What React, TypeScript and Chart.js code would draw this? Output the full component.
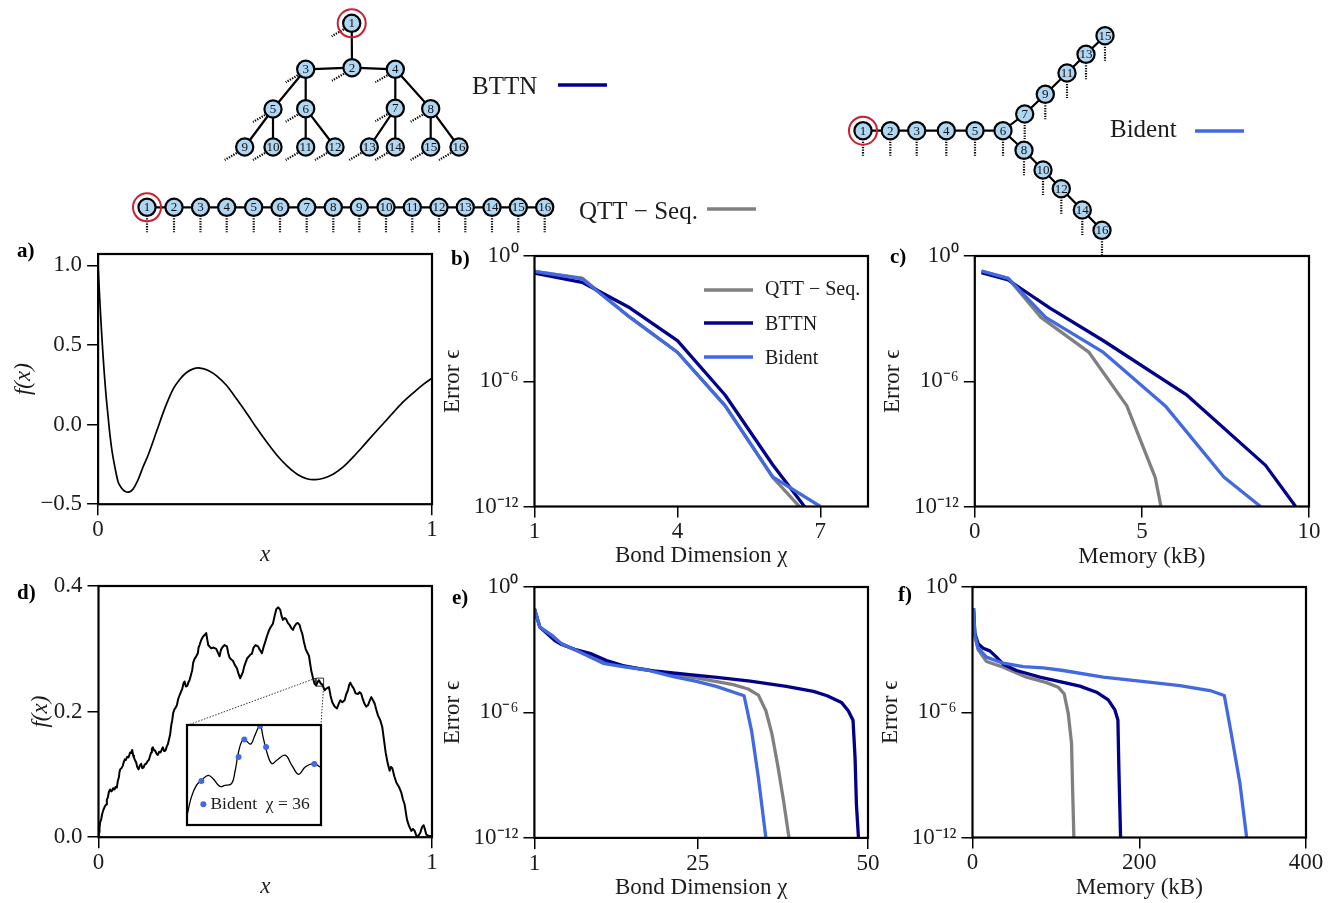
import React, { useEffect, useRef } from "react";
import { Chart, registerables } from "chart.js";

Chart.register(...registerables);

const SERIF = "'Liberation Serif', serif";
const INK = "#1c1c1c";
const NAVY = "#00008B";
const ROYAL = "#4169E1";
const GRAY = "#808080";
const NODE_FILL = "#AFD6F2";
const RING = "#C8202E";

/* ---------- panel a ---------- */
const aX = [0, .005, .01, .015, .02, .025, .03, .035, .042, .05, .06, .07, .08, .092, .105, .12, .135, .15, .175, .2, .225, .245, .265, .285, .305, .33, .355, .385, .415, .445, .475, .505, .535, .565, .595, .625, .65, .675, .705, .735, .765, .795, .825, .855, .885, .915, .945, .975, 1];
const aY = [1.0, .785, .596, .428, .281, .155, .05, -.055, -.17, -.264, -.36, -.398, -.418, -.424, -.404, -.345, -.264, -.191, -.044, .103, .224, .285, .327, .35, .355, .34, .306, .245, .16, .071, -.022, -.11, -.191, -.258, -.31, -.34, -.346, -.337, -.31, -.264, -.201, -.132, -.061, .008, .078, .145, .201, .254, .292];

/* ---------- panel b (log10 of error) ---------- */
const bChi = [1, 2, 3, 4, 5, 6, 7];
const bQtt = [-.74, -1.06, -2.93, -4.61, -7.17, -10.6, -13.1];
const bBttn = [-.82, -1.26, -2.48, -4.05, -6.66, -10.0, -13.0];
const bBident = [-.74, -1.10, -2.93, -4.61, -7.17, -10.58, -12.0];

/* ---------- panel c ---------- */
const cQttX = [.2, 1.0, 1.98, 3.42, 4.55, 5.4, 5.57];
const cQtt = [-.72, -1.07, -2.94, -4.62, -7.18, -10.62, -12.0];
const cBttnX = [.2, 1.0, 2.25, 3.85, 6.35, 8.7, 9.6];
const cBttn = [-.8, -1.15, -2.5, -4.06, -6.67, -10.03, -12.0];
const cBidentX = [.2, 1.0, 2.12, 3.85, 5.7, 7.45, 8.55];
const cBident = [-.72, -1.07, -2.94, -4.62, -7.18, -10.59, -12.0];

/* ---------- panel d ---------- */
const dX = [0, .0015, .003, .005, .008, .011, .015, .019, .023, .025, .028, .031, .035, .038, .041, .044, .048, .051, .055, .058, .061, .063, .065, .069, .073, .076, .079, .082, .086, .09, .095, .098, .101, .104, .106, .11, .113, .116, .12, .124, .128, .131, .135, .139, .143, .147, .151, .155, .158, .16, .163, .167, .17, .174, .178, .182, .186, .19, .193, .197, .201, .205, .208, .212, .215, .218, .221, .224, .228, .231, .235, .239, .243, .247, .251, .255, .258, .262, .266, .27, .273, .277, .281, .284, .288, .293, .298, .3, .303, .308, .313, .318, .323, .326, .329, .334, .338, .345, .353, .358, .363, .367, .371, .378, .385, .389, .393, .398, .403, .409, .415, .42, .425, .429, .433, .437, .441, .446, .451, .456, .46, .463, .465, .471, .478, .484, .49, .495, .5, .505, .511, .517, .523, .528, .533, .539, .545, .549, .553, .558, .563, .568, .573, .578, .583, .588, .593, .598, .603, .607, .611, .616, .621, .626, .631, .635, .638, .643, .648, .653, .657, .661, .666, .671, .675, .678, .684, .691, .696, .701, .708, .715, .72, .725, .731, .738, .743, .748, .752, .755, .76, .765, .771, .778, .783, .788, .793, .798, .803, .808, .813, .818, .823, .828, .833, .838, .845, .851, .856, .861, .867, .873, .877, .881, .887, .893, .901, .908, .913, .918, .922, .925, .931, .938, .943, .948, .952, .955, .96, .965, .97, .975, .979, .983, .99, 1];
const dY = [0, .008, .015, .024, .028, .037, .044, .049, .052, .06, .063, .072, .076, .073, .074, .078, .076, .08, .079, .09, .095, .104, .108, .11, .114, .12, .124, .123, .128, .127, .135, .134, .139, .13, .127, .122, .119, .112, .108, .114, .117, .11, .111, .116, .117, .121, .123, .13, .135, .141, .143, .138, .138, .133, .131, .136, .135, .14, .143, .137, .138, .145, .148, .157, .164, .178, .186, .198, .204, .206, .21, .22, .226, .231, .236, .245, .248, .24, .241, .247, .25, .258, .266, .278, .284, .288, .293, .302, .306, .314, .319, .322, .325, .315, .306, .303, .301, .302, .3, .294, .288, .298, .302, .306, .304, .293, .286, .283, .281, .274, .269, .26, .253, .258, .263, .272, .278, .285, .288, .291, .292, .298, .302, .306, .304, .298, .293, .303, .311, .32, .329, .335, .34, .352, .363, .366, .362, .352, .346, .349, .347, .341, .338, .333, .33, .336, .34, .341, .338, .33, .324, .311, .3, .294, .289, .275, .265, .254, .244, .242, .247, .25, .245, .243, .238, .234, .237, .239, .225, .215, .208, .205, .212, .218, .215, .218, .228, .234, .243, .246, .241, .237, .229, .228, .231, .228, .219, .212, .208, .21, .217, .223, .218, .213, .203, .194, .186, .175, .155, .135, .118, .106, .112, .11, .097, .087, .08, .071, .06, .052, .038, .028, .018, .01, .013, .01, .004, .001, .003, .007, .016, .019, .012, .004, .002, .002];
const dWindowX = [.652, .675];
const dWindowY = [.2405, .2533];
const dInsetCornerX = [.2654, .667];
const dInsetCornerY = .178;

/* inset, as percent of the zoomed window */
const insetX = [0, 3.25, 7, 10.75, 15.75, 19.5, 24.5, 28.25, 33.25, 35.75, 38.25, 40.75, 43.25, 47.5, 50.75, 54.5, 57, 59.5, 63.25, 67, 73.25, 78.25, 83.25, 88.25, 94.5, 99.5];
const insetY = [9.4, 27.9, 39.6, 44.6, 49.7, 46.3, 38.6, 39.6, 41.3, 53, 71.5, 83.2, 84.9, 80.9, 89.9, 99.3, 86.6, 73.2, 61.4, 64.8, 69.8, 59.7, 50.7, 58, 61.4, 58];
const insetDotX = [10.75, 38.5, 42.75, 54.5, 59, 95, 12.2];
const insetDotY = [44, 68, 85.6, 99, 77.9, 61, 20.7];

/* ---------- panel e ---------- */
const eQttX = [1, 1.8, 3.7, 5, 7.2, 11.1, 14, 17.5, 21.4, 24.8, 30.2, 32.4, 33.9, 35, 35.9, 36.8, 37.6, 38.4];
const eQtt = [-1.04, -1.92, -2.35, -2.72, -3.04, -3.6, -3.79, -3.95, -4.21, -4.35, -4.67, -4.88, -5.17, -5.92, -7.04, -8.64, -10.24, -12];
const eBttnX = [1, 1.8, 4, 5, 7.2, 9.4, 11.6, 14, 16.5, 18.9, 23.8, 27.8, 32.7, 38, 42, 44, 46.1, 47.1, 47.8, 48.1, 48.3, 48.6];
const eBttn = [-1.04, -1.92, -2.56, -2.75, -3.01, -3.2, -3.52, -3.76, -3.92, -4.03, -4.19, -4.32, -4.5, -4.75, -4.99, -5.2, -5.52, -5.92, -6.37, -8.16, -10.4, -12];
const eBidentX = [1, 1.8, 3.7, 5, 7.2, 11.1, 14, 17.5, 21.4, 24.8, 27.7, 31.8, 32.9, 33.9, 35];
const eBident = [-1.04, -1.92, -2.35, -2.72, -3.04, -3.65, -3.81, -3.97, -4.29, -4.51, -4.75, -5.2, -6.88, -9.12, -12];

/* ---------- panel f ---------- */
const fQttX = [1.2, 2.8, 6.8, 16.8, 36.8, 64.8, 88.8, 102.8, 110, 114.8, 118.8, 120, 121.6];
const fQtt = [-1.01, -2.37, -3.01, -3.57, -3.84, -4.32, -4.58, -4.8, -5.12, -6.05, -7.49, -9.57, -12];
const fBttnX = [1.2, 2.8, 6.8, 12.8, 20.8, 28.8, 36.8, 52.8, 80.8, 104.8, 128.8, 148.8, 162.8, 170.8, 174.4, 175.6, 177.6];
const fBttn = [-1.01, -2.21, -2.72, -2.93, -3.06, -3.36, -3.7, -4.0, -4.32, -4.53, -4.75, -5.04, -5.41, -5.89, -6.37, -8.77, -12];
const fBidentX = [1.2, 2.8, 6.8, 16.8, 36.8, 60.8, 84.8, 108.8, 156.8, 208.8, 248.8, 284.8, 302, 309.6, 320.8, 328.8];
const fBident = [-1.01, -2.29, -2.93, -3.36, -3.65, -3.81, -3.87, -4.0, -4.32, -4.54, -4.72, -4.96, -5.2, -6.85, -9.41, -12];

/* ---------- tensor network diagrams ---------- */
const treeNodes: number[][] = [[351.7, 23.3], [352, 67.7], [305.7, 69.3], [395.3, 69.3], [273, 109], [305.7, 108.7], [395.3, 108.3], [430.7, 108.7], [244.7, 147], [273, 147], [305.7, 147], [335, 147], [369.3, 147], [395.3, 147], [430.7, 147], [459, 147]];
const treeEdges: number[][] = [[1, 2], [2, 3], [2, 4], [3, 5], [3, 6], [4, 7], [4, 8], [5, 9], [5, 10], [6, 11], [6, 12], [7, 13], [7, 14], [8, 15], [8, 16]];
const chainX = [147, 174, 200.5, 226.7, 253.7, 280, 306.7, 333.3, 359.3, 386, 412.3, 439, 465.3, 492, 518.3, 544.7];
const chainY = 207.3;
const bidentNodes: number[][] = [[863, 130.7], [890.3, 130.7], [916.7, 130.7], [946.3, 130.7], [975, 130.7], [1003, 130.7], [1024.7, 114], [1024, 150.3], [1045.3, 94.3], [1043, 170], [1067, 73], [1061.3, 188.7], [1086, 54.3], [1082.3, 210], [1105, 35.7], [1102, 230.3]];
const bidentEdges: number[][] = [[1, 2], [2, 3], [3, 4], [4, 5], [5, 6], [6, 7], [6, 8], [7, 9], [9, 11], [11, 13], [13, 15], [8, 10], [10, 12], [12, 14], [14, 16]];
const sideLegs: number[][] = [[-8, 6], [-20, 13]];
const downLegs: number[][] = [[0, 11], [0, 25]];

const keyLines = [
  { color: NAVY, x: [558, 607], y: 85 },
  { color: GRAY, x: [707, 756], y: 209 },
  { color: ROYAL, x: [1195, 1244], y: 131 },
];
const keyTexts = [
  { text: "BTTN", x: 472, y: 87 },
  { text: "QTT − Seq.", x: 579, y: 212 },
  { text: "Bident", x: 1110, y: 130 },
];
const panelTags = [
  { text: "a)", x: 17, y: 252 },
  { text: "b)", x: 451, y: 260 },
  { text: "c)", x: 890, y: 258 },
  { text: "d)", x: 17, y: 594 },
  { text: "e)", x: 452, y: 599 },
  { text: "f)", x: 898, y: 596 },
];

const LEGEND_NAMES = ["QTT − Seq.", "BTTN", "Bident"];
const LEGEND_COLORS = [GRAY, NAVY, ROYAL];

const pts = (xs: number[], ys: number[]) => xs.map((x, i) => ({ x, y: ys[i] }));
const logPts = (xs: number[], es: number[]) => xs.map((x, i) => ({ x, y: Math.pow(10, es[i]) }));

const frame = {
  id: "frame",
  afterDatasetsDraw(c: any) {
    const { ctx, chartArea: a } = c;
    ctx.save();
    ctx.strokeStyle = "#000";
    ctx.lineWidth = 2.2;
    ctx.strokeRect(a.left, a.top, a.right - a.left, a.bottom - a.top);
    ctx.restore();
  },
};

const legendB = {
  id: "legendB",
  afterDatasetsDraw(c: any) {
    const { ctx, chartArea: a } = c;
    const rows = [34, 67, 101];
    const textRows = [33.5, 69, 102.5];
    ctx.save();
    ctx.font = `20px ${SERIF}`;
    ctx.textBaseline = "middle";
    ctx.fillStyle = INK;
    LEGEND_NAMES.forEach((n, i) => {
      ctx.strokeStyle = LEGEND_COLORS[i];
      ctx.lineWidth = 3.3;
      ctx.beginPath();
      ctx.moveTo(a.left + 169.5, a.top + rows[i]);
      ctx.lineTo(a.left + 218.5, a.top + rows[i]);
      ctx.stroke();
      ctx.fillText(n, a.left + 230.5, a.top + textRows[i]);
    });
    ctx.restore();
  },
};

const insetText = {
  id: "insetText",
  beforeDatasetsDraw(c: any) {
    const { ctx, chartArea: a } = c;
    ctx.save();
    ctx.fillStyle = "#fff";
    ctx.fillRect(a.left, a.top, a.right - a.left, a.bottom - a.top);
    ctx.font = `17.5px ${SERIF}`;
    ctx.textBaseline = "middle";
    ctx.fillStyle = INK;
    ctx.fillText("Bident  χ = 36", c.scales.x.getPixelForValue(17.5), c.scales.y.getPixelForValue(20.5));
    ctx.restore();
  },
};

const overlayText = {
  id: "overlayText",
  afterDatasetsDraw(c: any) {
    const { ctx, scales } = c;
    const px = (v: number) => scales.x.getPixelForValue(v);
    const py = (v: number) => scales.y.getPixelForValue(v);
    ctx.save();
    ctx.textBaseline = "middle";
    ctx.textAlign = "center";
    ctx.fillStyle = "#111";
    ctx.font = `13px ${SERIF}`;
    treeNodes.forEach((n, i) => ctx.fillText(String(i + 1), px(n[0]), py(n[1]) + 0.5));
    bidentNodes.forEach((n, i) => ctx.fillText(String(i + 1), px(n[0]), py(n[1]) + 0.5));
    chainX.forEach((x, i) => ctx.fillText(String(i + 1), px(x), py(chainY) + 0.5));
    ctx.textAlign = "left";
    ctx.fillStyle = INK;
    ctx.font = `25px ${SERIF}`;
    keyTexts.forEach((k) => ctx.fillText(k.text, px(k.x), py(k.y)));
    ctx.fillStyle = "#000";
    ctx.font = `bold 21px ${SERIF}`;
    panelTags.forEach((k) => ctx.fillText(k.text, px(k.x), py(k.y)));
    ctx.restore();
  },
};

function segs(nodes: number[][], edges: number[][]) {
  const out: any[] = [];
  edges.forEach(([a, b]) => {
    out.push({ x: nodes[a - 1][0], y: nodes[a - 1][1] }, { x: nodes[b - 1][0], y: nodes[b - 1][1] }, { x: NaN, y: NaN });
  });
  return out;
}
function legs(nodes: number[][], offsets: number[][]) {
  const out: any[] = [];
  nodes.forEach(([x, y]) => {
    out.push({ x: x + offsets[0][0], y: y + offsets[0][1] }, { x: x + offsets[1][0], y: y + offsets[1][1] }, { x: NaN, y: NaN });
  });
  return out;
}

const chainNodes = chainX.map((x) => [x, chainY]);
const chainEdges = chainX.slice(1).map((_, i) => [i + 1, i + 2]);

function overlayConfig() {
  const nodeStyle = {
    showLine: false,
    pointRadius: 8.6,
    pointBackgroundColor: NODE_FILL,
    pointBorderColor: "#000",
    pointBorderWidth: 2.2,
  };
  const leg = { showLine: true, borderColor: "#000", borderWidth: 2.2, borderDash: [1.3, 1.3], pointRadius: 0, spanGaps: false };
  const bond = { showLine: true, borderColor: "#000", borderWidth: 2.2, pointRadius: 0, spanGaps: false };
  return {
    type: "scatter",
    data: {
      datasets: [
        {
          data: [{ x: treeNodes[0][0], y: treeNodes[0][1] }, { x: chainX[0], y: chainY }, { x: bidentNodes[0][0], y: bidentNodes[0][1] }],
          showLine: false,
          pointRadius: 14,
          pointBackgroundColor: "rgba(0,0,0,0)",
          pointBorderColor: RING,
          pointBorderWidth: 2,
        },
        { data: treeNodes.map(([x, y]) => ({ x, y })), ...nodeStyle },
        { data: chainNodes.map(([x, y]) => ({ x, y })), ...nodeStyle },
        { data: bidentNodes.map(([x, y]) => ({ x, y })), ...nodeStyle },
        { data: segs(treeNodes, treeEdges), ...bond },
        { data: segs(chainNodes, chainEdges), ...bond },
        { data: segs(bidentNodes, bidentEdges), ...bond },
        { data: legs(treeNodes, sideLegs), ...leg },
        { data: legs(chainNodes, downLegs), ...leg },
        { data: legs(bidentNodes, downLegs), ...leg },
        ...keyLines.map((k) => ({
          data: k.x.map((x) => ({ x, y: k.y })),
          showLine: true,
          borderColor: k.color,
          borderWidth: 3.3,
          pointRadius: 0,
        })),
      ],
    },
    options: {
      responsive: false,
      animation: false,
      events: [],
      layout: { padding: 0, autoPadding: false },
      plugins: { legend: { display: false }, tooltip: { enabled: false } },
      scales: {
        x: { type: "linear", min: 0, max: 1331, display: false },
        y: { type: "linear", min: 0, max: 903, reverse: true, display: false },
      },
    },
    plugins: [overlayText],
  };
}

type PanelSpec = {
  L: number; T: number; W: number; H: number;
  xMin: number; xMax: number; xTicks: number[]; xLabels: string[];
  yMin: number; yMax: number; yTicks: number[]; yLabels: string[];
  log?: boolean;
  xTitle: string; xItalic?: boolean; xTitleY: number;
  yTitle: string; yItalic?: boolean; yTitleX: number;
  datasets: any[]; plugins?: any[];
};

const TOP_M = 20, RIGHT_M = 24, TITLE = 23, HALF = TITLE * 0.6;

function panelFrame(s: PanelSpec) {
  const yw = s.L - s.yTitleX + HALF;
  const xh = s.xTitleY + HALF - (s.T + s.H);
  return { left: s.L - yw, top: s.T - TOP_M, width: yw + s.W + RIGHT_M, height: TOP_M + s.H + xh, yw, xh };
}

function panelConfig(s: PanelSpec) {
  const { yw, xh } = panelFrame(s);
  const clearPad = (sc: any) => {
    sc.paddingLeft = 0; sc.paddingRight = 0; sc.paddingTop = 0; sc.paddingBottom = 0;
  };
  const grid = { drawOnChartArea: false, drawTicks: true, tickLength: 11, color: "#000", lineWidth: 1.5 };
  return {
    type: "scatter",
    data: { datasets: s.datasets },
    options: {
      responsive: false,
      animation: false,
      events: [],
      layout: { padding: { left: 0, top: TOP_M, right: RIGHT_M, bottom: 0 }, autoPadding: false },
      plugins: { legend: { display: false }, tooltip: { enabled: false } },
      scales: {
        x: {
          type: "linear",
          min: s.xMin,
          max: s.xMax,
          grid,
          border: { display: false },
          afterBuildTicks: (sc: any) => { sc.ticks = s.xTicks.map((value) => ({ value })); },
          afterFit: (sc: any) => { sc.height = xh; clearPad(sc); },
          ticks: {
            autoSkip: false,
            maxRotation: 0,
            minRotation: 0,
            padding: 1,
            color: INK,
            font: { size: 23, family: SERIF },
            callback: (v: number) => s.xLabels[s.xTicks.indexOf(v)] ?? "",
          },
          title: {
            display: true,
            text: s.xTitle,
            color: INK,
            padding: 0,
            font: { size: TITLE, family: SERIF, style: s.xItalic ? "italic" : "normal", lineHeight: 1.2 },
          },
        },
        y: {
          type: s.log ? "logarithmic" : "linear",
          min: s.yMin,
          max: s.yMax,
          grid,
          border: { display: false },
          afterBuildTicks: (sc: any) => { sc.ticks = s.yTicks.map((value) => ({ value })); },
          afterFit: (sc: any) => { sc.width = yw; clearPad(sc); },
          ticks: {
            autoSkip: false,
            padding: 5,
            color: INK,
            font: { size: 23, family: SERIF },
            callback: (v: number) => s.yLabels[s.yTicks.indexOf(v)] ?? "",
          },
          title: {
            display: true,
            text: s.yTitle,
            color: INK,
            padding: 0,
            font: { size: TITLE, family: SERIF, style: s.yItalic ? "italic" : "normal", lineHeight: 1.2 },
          },
        },
      },
    },
    plugins: [frame, ...(s.plugins ?? [])],
  };
}

const line = (data: any[], color: string, width = 3.3) => ({
  data, showLine: true, borderColor: color, borderWidth: width, pointRadius: 0, borderJoinStyle: "round",
});

const LOG_TICKS = [1, 1e-6, 1e-12];
const LOG_LABELS = ["10⁰", "10⁻⁶", "10⁻¹²"];
const ERR = "Error ϵ";

const panels: PanelSpec[] = [
  {
    L: 98.3, T: 254.3, W: 333.4, H: 249.7,
    xMin: 0, xMax: 1, xTicks: [0, 1], xLabels: ["0", "1"],
    yMin: -.5, yMax: 1.071, yTicks: [-.5, 0, .5, 1], yLabels: ["−0.5", "0.0", "0.5", "1.0"],
    xTitle: "x", xItalic: true, xTitleY: 555, yTitle: "f(x)", yItalic: true, yTitleX: 24,
    datasets: [{ ...line(pts(aX, aY), "#000", 1.7), tension: 0.3 }],
  },
  {
    L: 534.7, T: 256.3, W: 333.3, H: 250,
    xMin: 1, xMax: 8, xTicks: [1, 4, 7], xLabels: ["1", "4", "7"],
    yMin: 1e-12, yMax: 1, yTicks: LOG_TICKS, yLabels: LOG_LABELS, log: true,
    xTitle: "Bond Dimension χ", xTitleY: 556, yTitle: ERR, yTitleX: 453,
    datasets: [line(logPts(bChi, bBident), ROYAL), line(logPts(bChi, bBttn), NAVY), line(logPts(bChi, bQtt), GRAY)],
    plugins: [legendB],
  },
  {
    L: 975, T: 256, W: 333.3, H: 250.3,
    xMin: 0, xMax: 10, xTicks: [0, 5, 10], xLabels: ["0", "5", "10"],
    yMin: 1e-12, yMax: 1, yTicks: LOG_TICKS, yLabels: LOG_LABELS, log: true,
    xTitle: "Memory (kB)", xTitleY: 557, yTitle: ERR, yTitleX: 893,
    datasets: [line(logPts(cBidentX, cBident), ROYAL), line(logPts(cBttnX, cBttn), NAVY), line(logPts(cQttX, cQtt), GRAY)],
  },
  {
    L: 98.7, T: 585.7, W: 333.3, H: 250.3,
    xMin: 0, xMax: 1, xTicks: [0, 1], xLabels: ["0", "1"],
    yMin: 0, yMax: .4, yTicks: [0, .2, .4], yLabels: ["0.0", "0.2", "0.4"],
    xTitle: "x", xItalic: true, xTitleY: 886, yTitle: "f(x)", yItalic: true, yTitleX: 41,
    datasets: [
      line(pts(dX, dY), "#000", 2),
      {
        data: [
          { x: dWindowX[0], y: dWindowY[0] }, { x: dWindowX[1], y: dWindowY[0] }, { x: dWindowX[1], y: dWindowY[1] },
          { x: dWindowX[0], y: dWindowY[1] }, { x: dWindowX[0], y: dWindowY[0] },
        ],
        showLine: true, borderColor: "#333", borderWidth: 1, pointRadius: 0,
      },
      {
        data: [
          { x: dInsetCornerX[0], y: dInsetCornerY }, { x: dWindowX[0], y: dWindowY[1] }, { x: NaN, y: NaN },
          { x: dInsetCornerX[1], y: dInsetCornerY }, { x: dWindowX[1], y: dWindowY[0] },
        ],
        showLine: true, borderColor: "#333", borderWidth: 1, borderDash: [1.5, 1.5], pointRadius: 0, spanGaps: false,
      },
    ],
  },
  {
    L: 534.6, T: 586.7, W: 333.2, H: 250,
    xMin: 1, xMax: 50, xTicks: [1, 25, 50], xLabels: ["1", "25", "50"],
    yMin: 1e-12, yMax: 1, yTicks: LOG_TICKS, yLabels: LOG_LABELS, log: true,
    xTitle: "Bond Dimension χ", xTitleY: 887, yTitle: ERR, yTitleX: 453,
    datasets: [line(logPts(eBidentX, eBident), ROYAL), line(logPts(eBttnX, eBttn), NAVY), line(logPts(eQttX, eQtt), GRAY)],
  },
  {
    L: 972.7, T: 587.3, W: 333.3, H: 250,
    xMin: 0, xMax: 400, xTicks: [0, 200, 400], xLabels: ["0", "200", "400"],
    yMin: 1e-12, yMax: 1, yTicks: LOG_TICKS, yLabels: LOG_LABELS, log: true,
    xTitle: "Memory (kB)", xTitleY: 888, yTitle: ERR, yTitleX: 891,
    datasets: [line(logPts(fBidentX, fBident), ROYAL), line(logPts(fBttnX, fBttn), NAVY), line(logPts(fQttX, fQtt), GRAY)],
  },
];

function insetConfig() {
  return {
    type: "scatter",
    data: {
      datasets: [
        {
          data: pts(insetDotX, insetDotY),
          showLine: false,
          pointRadius: 3,
          pointBackgroundColor: ROYAL,
          pointBorderWidth: 0,
        },
        { ...line(pts(insetX, insetY), "#000", 1.3), tension: 0.4 },
      ],
    },
    options: {
      responsive: false,
      animation: false,
      events: [],
      layout: { padding: 2, autoPadding: false },
      plugins: { legend: { display: false }, tooltip: { enabled: false } },
      scales: {
        x: { type: "linear", min: 0, max: 100, display: false },
        y: { type: "linear", min: 0, max: 100, display: false },
      },
    },
    plugins: [insetText, frame],
  };
}

function ChartCanvas({ left, top, width, height, make }: any) {
  const ref = useRef<HTMLCanvasElement | null>(null);
  useEffect(() => {
    const chart = new Chart(ref.current as any, make());
    return () => chart.destroy();
  }, []);
  return (
    <canvas
      ref={ref}
      width={Math.ceil(width)}
      height={Math.ceil(height)}
      style={{ position: "absolute", left, top, width: Math.ceil(width), height: Math.ceil(height), display: "block" }}
    />
  );
}

export default function App() {
  return (
    <div style={{ position: "absolute", left: 0, top: 0, width: 1331, height: 903, background: "#fff", overflow: "hidden" }}>
      {panels.map((p, i) => {
        const f = panelFrame(p);
        return <ChartCanvas key={i} left={f.left} top={f.top} width={f.width} height={f.height} make={() => panelConfig(p)} />;
      })}
      <ChartCanvas left={185} top={723} width={138} height={104} make={insetConfig} />
      <ChartCanvas left={0} top={0} width={1331} height={903} make={overlayConfig} />
    </div>
  );
}
